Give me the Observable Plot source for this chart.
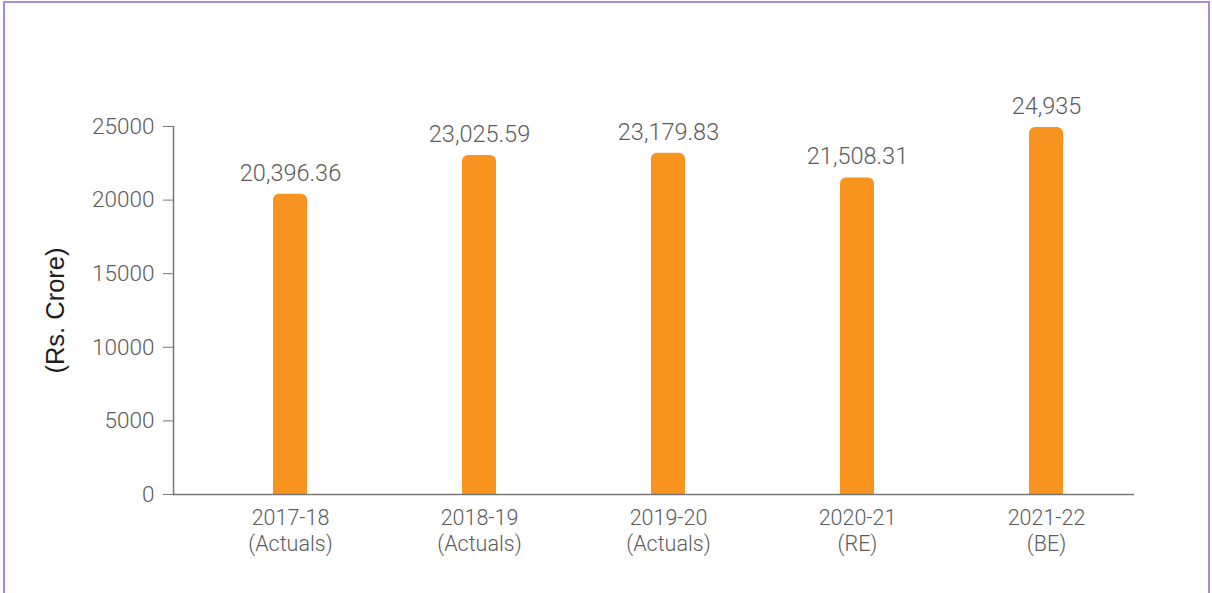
<!DOCTYPE html>
<html>
<head>
<meta charset="utf-8">
<script src="https://cdn.jsdelivr.net/npm/d3@7"></script>
<script src="https://cdn.jsdelivr.net/npm/@observablehq/plot@0.6"></script>
<style>
  html, body { margin: 0; padding: 0; background: #fff; }
  #wrap { position: relative; width: 1212px; height: 593px; overflow: hidden; }
  #border { position: absolute; left: 3px; top: 1px; width: 1207px; height: 640px; border: 2px solid #ad8ad2; box-sizing: border-box; }
  #chart { position: absolute; left: 0; top: 0; }
  #chart svg { font-family: Roboto, "Liberation Sans", sans-serif; font-weight: 300; }
</style>
</head>
<body>
<div id="wrap"><div id="border"></div><div id="chart"></div></div>
<script>
const years = ["2017-18", "2018-19", "2019-20", "2020-21", "2021-22"];
const kinds = ["(Actuals)", "(Actuals)", "(Actuals)", "(RE)", "(BE)"];
const values = [20396.36, 23025.59, 23179.83, 21508.31, 24935];
const yTicks = [0, 5000, 10000, 15000, 20000, 25000];
const yLabel = "(Rs. Crore)";

const cats = years.map((y, i) => y + "\n" + kinds[i]);
const data = cats.map((c, i) => ({cat: c, value: values[i]}));
const fmt = d3.format(",");
const ink = "#5b5b5b";

const chart = Plot.plot({
  width: 1212,
  height: 593,
  marginLeft: 173,
  marginRight: 78,
  marginTop: 126,
  marginBottom: 99,
  style: {color: ink, background: "transparent"},
  x: {domain: cats, range: [195.5, 1140.5], paddingInner: 0.82, paddingOuter: 0.41},
  y: {domain: [0, 25000]},
  marks: [
    Plot.barY(data, {x: "cat", y1: -2000, y2: "value", fill: "#f7931e", rx: 6, clip: true}),
    Plot.ruleY([0], {stroke: "#777", strokeWidth: 1.5}),
    Plot.frame({anchor: "left", stroke: "#777", strokeWidth: 1.5}),
    Plot.axisY({ticks: yTicks, tickFormat: d => String(d), tickSize: 10, tickPadding: 9, fontSize: 22.5, label: null, stroke: "#777", color: ink}),
    Plot.axisX({tickSize: 0, tickPadding: 12, fontSize: 21.5, lineHeight: 1.22, label: null, color: ink}),
    Plot.text(data, {x: "cat", y: "value", text: d => fmt(d.value), dy: -21, fontSize: 23.5, fill: ink}),
    Plot.text([yLabel], {frameAnchor: "left", textAnchor: "middle", rotate: -90, dx: -118, fontSize: 25.5, fill: "#1e1e1e", fontWeight: 400, fontFamily: "'Liberation Sans', Arial, sans-serif"})
  ]
});
document.getElementById("chart").appendChild(chart);
</script>
</body>
</html>
